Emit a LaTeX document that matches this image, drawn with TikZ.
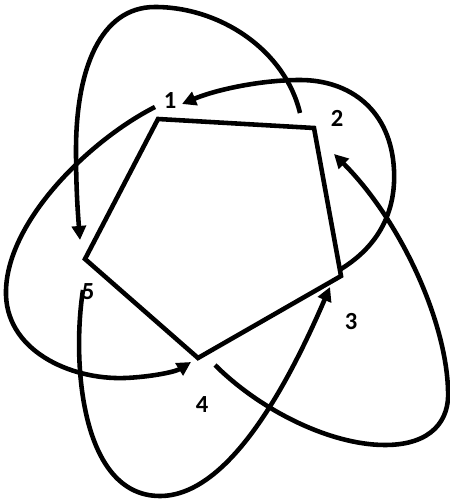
\documentclass[tikz,border=0pt]{standalone}
\usepackage{fontspec}
\setmainfont{Carlito}
\usepackage{tikz}
\usetikzlibrary{arrows.meta}
\tikzstyle{edge} = [line width=2.6pt, line join=miter]
\tikzstyle{loop} = [line width=2.6pt, -{Triangle[length=8pt,width=8pt]}]
\tikzstyle{num} = [font=\fontsize{14}{16}\selectfont\bfseries, inner sep=1pt]

\begin{document}
\begin{tikzpicture}[x=0.02cm, y=-0.02cm]
        \useasboundingbox (0,0) rectangle (449,502);

        % --- Vértices del pentágono ---
        \coordinate (v1) at (158,119);
        \coordinate (v2) at (314,128);
        \coordinate (v3) at (341,276);
        \coordinate (v4) at (198,358);
        \coordinate (v5) at (85,259);

        % --- Etiquetas ---
        \node (n1) [num] at (170,101) {1};
        \node (n2) [num] at (337,118) {2};
        \node (n3) [num] at (351,322) {3};
        \node (n4) [num] at (202,405) {4};
        \node (n5) [num] at (88,292) {5};

        % --- Extremos de las flechas ---
        \coordinate (a2) at (300,113);
        \coordinate (a5) at (80,240);
        \coordinate (b3) at (341,269);
        \coordinate (b1) at (182,104);
        \coordinate (c1) at (155,107);
        \coordinate (c4) at (191,362);
        \coordinate (d4) at (215,365);
        \coordinate (d2) at (334,154);
        \coordinate (e5) at (83,290);
        \coordinate (e3) at (330,287);

        % --- Pentágono ---
        \draw [edge] (v1) -- (v2) -- (v3) -- (v4) -- (v5) -- cycle;

        % --- Flechas ---
        \draw [loop] (a2) .. controls (285,50) and (220,7) .. (155,7)
            .. controls (100,7) and (76,70) .. (76,150)
            .. controls (76,190) and (78,215) .. (a5);
        \draw [loop] (b3) .. controls (380,245) and (396,210) .. (394,170)
            .. controls (391,110) and (350,80) .. (300,80)
            .. controls (260,80) and (215,90) .. (b1);
        \draw [loop] (c1) .. controls (90,140) and (8,220) .. (6,290)
            .. controls (4,350) and (70,380) .. (125,378)
            .. controls (150,377) and (175,372) .. (c4);
        \draw [loop] (d4) .. controls (260,410) and (330,445) .. (385,445)
            .. controls (432,445) and (450,420) .. (448,390)
            .. controls (446,320) and (400,220) .. (d2);
        \draw [loop] (e5) .. controls (72,360) and (80,496) .. (160,496)
            .. controls (230,496) and (290,380) .. (e3);

\end{tikzpicture}
\end{document}
